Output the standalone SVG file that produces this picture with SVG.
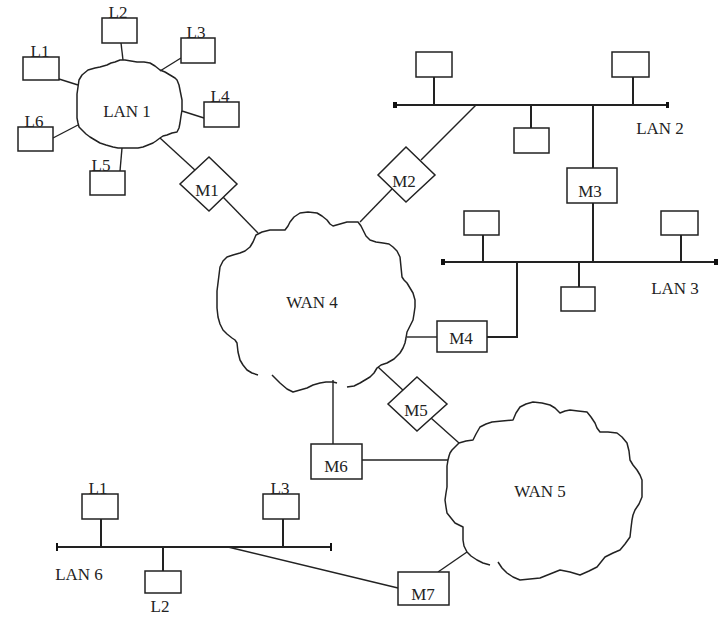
<svg xmlns="http://www.w3.org/2000/svg" width="718" height="617" viewBox="0 0 718 617">
<style>
.box{fill:#fff;stroke:#222;stroke-width:1.5}
.ln{fill:none;stroke:#222;stroke-width:1.4}
.bus{fill:none;stroke:#222;stroke-width:2}
.cl{fill:none;stroke:#222;stroke-width:1.5;stroke-linejoin:round}
.end{fill:#111}
text{font-family:"Liberation Serif","Times New Roman",serif;font-size:17px;fill:#222;text-anchor:middle}
</style>
<rect width="718" height="617" fill="#fff"/>
<g id="connectors">
<line class="ln" x1="121" y1="43" x2="123" y2="60"/>
<line class="ln" x1="59" y1="79" x2="78" y2="85"/>
<line class="ln" x1="181" y1="58" x2="160" y2="71"/>
<line class="ln" x1="204" y1="118" x2="182" y2="111"/>
<line class="ln" x1="53" y1="138" x2="78" y2="125"/>
<line class="ln" x1="120" y1="171" x2="122" y2="148"/>
<line class="ln" x1="160" y1="138" x2="196" y2="171"/>
<line class="ln" x1="223" y1="197" x2="258" y2="233"/>
<line class="ln" x1="360" y1="222" x2="392" y2="189"/>
<line class="ln" x1="421" y1="160" x2="476" y2="105"/>
<polyline class="bus" points="395,105 668,105"/>
<line class="ln" x1="434" y1="77" x2="434" y2="105" style="stroke-width:2"/>
<line class="ln" x1="633" y1="77" x2="633" y2="105" style="stroke-width:2"/>
<line class="ln" x1="531" y1="105" x2="531" y2="128" style="stroke-width:2"/>
<line class="ln" x1="593" y1="105" x2="593" y2="168" style="stroke-width:2"/>
<line class="ln" x1="593" y1="203" x2="593" y2="262" style="stroke-width:2"/>
<polyline class="bus" points="443,262 716,262"/>
<line class="ln" x1="483" y1="235" x2="483" y2="262" style="stroke-width:2"/>
<line class="ln" x1="681" y1="235" x2="681" y2="262" style="stroke-width:2"/>
<line class="ln" x1="579" y1="262" x2="579" y2="287" style="stroke-width:2"/>
<polyline class="ln" points="487,337 517,337 517,262" style="stroke-width:2"/>
<line class="ln" x1="407" y1="337" x2="437" y2="337"/>
<line class="ln" x1="378" y1="367" x2="405" y2="392"/>
<line class="ln" x1="431" y1="418" x2="459" y2="443"/>
<line class="ln" x1="333" y1="380" x2="333" y2="444"/>
<line class="ln" x1="362" y1="460" x2="448" y2="460"/>
<line class="ln" x1="438" y1="572" x2="467" y2="552"/>
<line class="ln" x1="228" y1="547" x2="398" y2="588"/>
<polyline class="bus" points="57,547 331,547"/>
<line class="ln" x1="101" y1="519" x2="101" y2="547" style="stroke-width:2"/>
<line class="ln" x1="283" y1="519" x2="283" y2="547" style="stroke-width:2"/>
<line class="ln" x1="163" y1="547" x2="163" y2="571" style="stroke-width:2"/>
<rect class="end" x="393" y="102" width="4" height="6"/>
<rect class="end" x="666" y="102" width="3" height="6"/>
<rect class="end" x="441" y="259" width="4" height="6"/>
<rect class="end" x="714" y="259" width="4" height="6"/>
<rect class="end" x="56" y="543" width="2" height="8"/>
<rect class="end" x="330" y="543" width="2" height="8"/>
</g>
<g id="lan1">
<polyline class="cl" points="78,87 79,80 82,75 88,70 95,68 100,67 107,65 111,63 115,62 120,60 125,60 131,61 137,62 144,62 150,63 155,66 160,70 165,72 170,75 175,78 177,80 179,85 180,90 181,95 182,100 182,105 182,110 181,116 180,123 179,128 177,132 172,133 167,135 163,136 160,138 156,141 153,143 148,145 143,147 138,148 133,148 128,148 123,148 118,148 113,147 106,145 100,143 95,140 90,137 86,134 82,130 79,127 78,123 77,118 77,113 77,106 77,100 77,94 78,87"/>
<text x="127" y="117">LAN 1</text>
</g>
<g id="L1a"><rect class="box" x="23" y="57" width="36" height="23"/><text x="40" y="57">L1</text></g>
<g id="L2a"><rect class="box" x="102" y="18" width="35" height="25"/><text x="118" y="18">L2</text></g>
<g id="L3a"><rect class="box" x="181" y="38" width="34" height="25"/><text x="196" y="38">L3</text></g>
<g id="L4a"><rect class="box" x="204" y="102" width="35" height="25"/><text x="220" y="102">L4</text></g>
<g id="L6a"><rect class="box" x="18" y="127" width="35" height="24"/><text x="34" y="127">L6</text></g>
<g id="L5a"><rect class="box" x="90" y="171" width="35" height="24"/><text x="101" y="171">L5</text></g>
<g id="M1"><polygon class="box" points="209,157 237,184 209,211 180,184"/><text x="207" y="196">M1</text></g>
<g id="wan4">
<polyline class="cl" points="258,375 252,373 247,370 243,365 240,360 238,352 237,343 235,340 232,338 227,334 223,330 220,324 218,317 217,308 217,300 217,291 218,283 219,275 220,267 223,261 227,257 233,255 240,253 245,251 250,247 253,242 256,235 262,232 270,230 278,230 285,230 288,226 290,222 294,217 300,213 308,212 317,213 322,216 327,220 330,224 333,226 340,224 347,222 353,222 358,222 361,226 363,230 366,236 370,240 376,242 383,243 389,244 393,247 397,251 400,257 401,267 402,277 404,280 407,283 410,288 413,293 415,300 415,307 414,314 413,320 410,326 407,332 406,338 405,343 403,348 400,353 394,359 387,363 381,365 377,368 374,373 370,377 365,380 360,383 354,386 347,387"/>
<polyline class="cl" points="337,383 333,382 326,382 320,383 313,385 307,388 300,390 293,392 287,389 280,383 276,379 272,375"/>
<text x="312" y="308">WAN 4</text>
</g>
<g id="M2"><polygon class="box" points="406,147 435,175 406,202 378,175"/><text x="404" y="187">M2</text></g>
<g id="lan2">
<rect class="box" x="416" y="52" width="36" height="25"/>
<rect class="box" x="612" y="52" width="37" height="25"/>
<rect class="box" x="514" y="128" width="35" height="25"/>
<text x="660" y="134">LAN 2</text>
</g>
<g id="M3"><rect class="box" x="567" y="168" width="50" height="35"/><text x="590" y="197">M3</text></g>
<g id="lan3">
<rect class="box" x="464" y="211" width="35" height="24"/>
<rect class="box" x="661" y="211" width="37" height="24"/>
<rect class="box" x="561" y="287" width="34" height="24"/>
<text x="675" y="294">LAN 3</text>
</g>
<g id="M4"><rect class="box" x="437" y="321" width="50" height="31"/><text x="461" y="344">M4</text></g>
<g id="M5"><polygon class="box" points="417,377 447,404 417,431 388,404"/><text x="416" y="416">M5</text></g>
<g id="M6"><rect class="box" x="311" y="444" width="51" height="35"/><text x="336" y="472">M6</text></g>
<g id="wan5">
<polyline class="cl" points="490,565 483,563 477,560 471,556 467,552 464,546 463,540 463,533 463,527 459,525 455,523 451,518 447,513 446,507 445,500 446,493 447,487 447,480 447,473 447,466 448,460 449,456 450,453 452,450 455,447 459,443 466,441 473,440 476,434 480,427 486,424 492,422 502,421 513,420 516,413 520,407 526,404 533,402 542,403 550,405 555,408 560,413 565,411 570,410 578,411 587,412 591,417 595,423 597,428 600,432 608,432 617,433 622,437 627,443 629,451 630,460 633,465 637,470 640,475 642,480 642,488 642,497 639,504 635,510 633,515 632,520 631,528 630,537 625,544 620,550 613,553 605,557 601,562 597,567 589,571 580,575 570,572 560,570 550,574 540,578 530,579 520,580 513,577 507,573 502,568 498,562"/>
<text x="540" y="497">WAN 5</text>
</g>
<g id="M7"><rect class="box" x="398" y="572" width="51" height="33"/><text x="423" y="600">M7</text></g>
<g id="lan6">
<text x="79" y="580">LAN 6</text>
</g>
<g id="L1b"><rect class="box" x="82" y="494" width="36" height="25"/><text x="98" y="494">L1</text></g>
<g id="L3b"><rect class="box" x="263" y="494" width="36" height="25"/><text x="280" y="494">L3</text></g>
<g id="L2b"><rect class="box" x="145" y="571" width="36" height="22"/><text x="160" y="612">L2</text></g>
</svg>
